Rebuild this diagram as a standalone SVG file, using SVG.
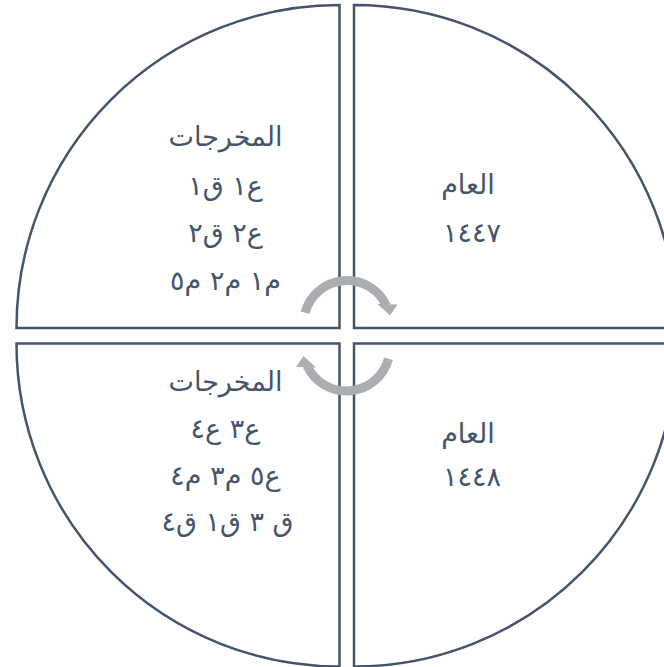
<svg xmlns="http://www.w3.org/2000/svg" width="664" height="667" viewBox="0 0 664 667">
<style>
.q{fill:#fff;stroke:#44546A;stroke-width:2.5;stroke-linejoin:miter}
.t{font-family:"DejaVu Sans","Liberation Serif",sans-serif;font-size:27px;fill:#44546A;text-anchor:middle}
.y{letter-spacing:4px}
.arc{fill:none;stroke:#AAADB2;stroke-width:9}
.head{fill:#AAADB2}
</style>
<defs>
<g id="cyc">
<path class="arc" d="M304.98 312.74 A43.5 43.5 0 0 1 386.42 305.62"/>
<polygon class="head" points="377.5,304 397.5,304.5 390,315.5"/>
</g>
</defs>
<g id="q-tl">
<path class="q" d="M339.5 328 L16.5 328 A323 323 0 0 1 339.5 5 Z"/>
<text class="t" direction="rtl" x="225.5" y="146">المخرجات</text>
<text class="t" direction="rtl" x="225.5" y="195">ع١ ق١</text>
<text class="t" direction="rtl" x="225.5" y="242">ع٢ ق٢</text>
<text class="t" direction="rtl" x="225.5" y="290">م١ م٢ م٥</text>
</g>
<g id="q-tr">
<path class="q" d="M354 328 L354 5 A323 323 0 0 1 677 328 Z"/>
<text class="t" direction="rtl" x="468" y="194">العام</text>
<text class="t y" x="472" y="242">١٤٤٧</text>
</g>
<g id="q-bl">
<path class="q" d="M339.5 343.5 L339.5 666.5 A323 323 0 0 1 16.5 343.5 Z"/>
<text class="t" direction="rtl" x="225.5" y="391">المخرجات</text>
<text class="t" direction="rtl" x="225.5" y="438">ع٣ ع٤</text>
<text class="t" direction="rtl" x="225.5" y="485">ع٥ م٣ م٤</text>
<text class="t" direction="rtl" x="227.5" y="531">ق ٣ ق١ ق٤</text>
</g>
<g id="q-br">
<path class="q" d="M354 343.5 L677 343.5 A323 323 0 0 1 354 666.5 Z"/>
<text class="t" direction="rtl" x="468" y="443">العام</text>
<text class="t y" x="472" y="486">١٤٤٨</text>
</g>
<g id="connectors">
<use href="#cyc"/>
<use href="#cyc" transform="rotate(180 346.75 335.75)"/>
</g>
</svg>
